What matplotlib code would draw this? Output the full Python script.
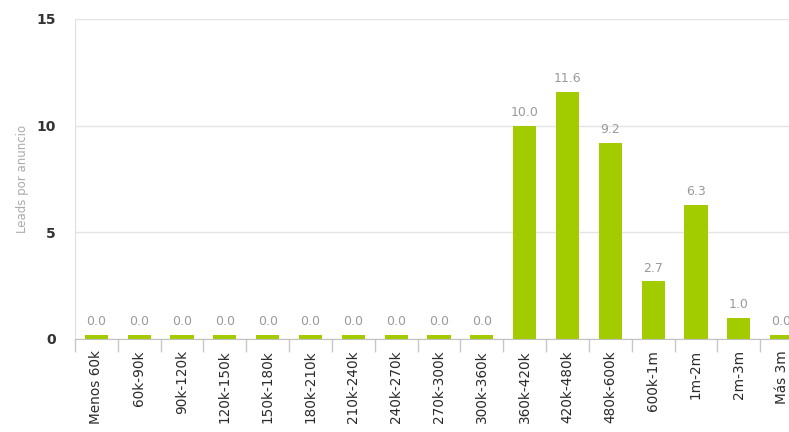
import numpy as np
import matplotlib.pyplot as plt

categories = ["Menos 60k", "60k-90k", "90k-120k", "120k-150k", "150k-180k",
              "180k-210k", "210k-240k", "240k-270k", "270k-300k", "300k-360k",
              "360k-420k", "420k-480k", "480k-600k", "600k-1m", "1m-2m",
              "2m-3m", "Más 3m"]
leads = [0.0, 0.0, 0.0, 0.0, 0.0, 0.0, 0.0, 0.0, 0.0, 0.0,
         10.0, 11.6, 9.2, 2.7, 6.3, 1.0, 0.0]
yticks = [0, 5, 10, 15]

bar_color = "#a2cc00"
x = np.arange(len(categories))
vals = np.array(leads)

fig = plt.figure(figsize=(7.89, 4.32), dpi=100)
ax = fig.add_axes([75 / 789, 93 / 432, 728 / 789, 320 / 432])

# zero values still get a thin visible bar, like the original chart
ax.bar(x, np.maximum(vals, 0.2), width=0.54, color=bar_color, zorder=3)
for xi, v in zip(x, vals):
    ax.text(xi, max(v, 0.2) + 0.3, f"{v:.1f}", ha="center", va="bottom",
            fontsize=9, color="#9a9a9a", zorder=4)

ax.set_xlim(-0.5, len(categories) - 0.5)
ax.set_ylim(0, 15)
ax.set_yticks(yticks)
ax.set_yticklabels([str(t) for t in yticks], fontsize=10, fontweight="bold", color="#333333")
ax.tick_params(axis="y", length=0, pad=14)
ax.yaxis.grid(True, color="#e4e4e4", linewidth=1, zorder=0)

ax.set_xticks(x)
ax.set_xticklabels(categories, rotation=90, fontsize=9.8, color="#2a2a2a")
ax.tick_params(axis="x", length=0, pad=8)
ax.set_xticks(np.arange(len(categories) + 1) - 0.5, minor=True)
ax.tick_params(axis="x", which="minor", length=9, color="#c8c8c8", width=1)

ax.set_ylabel("Leads por anuncio", fontsize=8.5, color="#aaaaaa", labelpad=5)

for s in ["top", "right"]:
    ax.spines[s].set_visible(False)
ax.spines["left"].set_color("#e0e0e0")
ax.spines["bottom"].set_color("#c0c0c0")

fig.savefig("out.png", dpi=100)
